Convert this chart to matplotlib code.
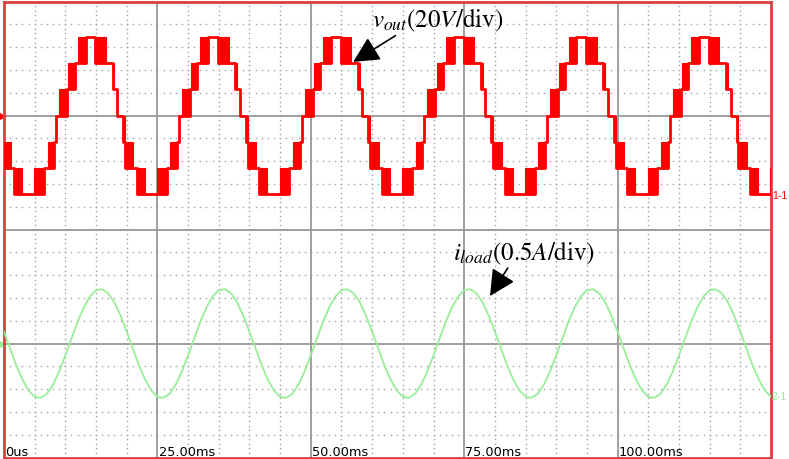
import numpy as np
import matplotlib.pyplot as plt

plt.rcParams['mathtext.fontset'] = 'stix'

# scope settings (screen is 25 x 20 minor divisions)
time_per_div = 5.0      # ms per minor division
volt_per_div = 20.0     # channel 1, V/div
amp_per_div = 0.5       # channel 2, A/div
ch1_zero = 5.0          # channel offsets in divisions
ch2_zero = -5.0
screen_ms = 125.0

# one 20 ms cycle of the 7-level output voltage:
# segment start/end (ms) and the two levels it switches between
cycle_ms = 20.0
step_volts = 23.0
seg_start = [18.4, 19.4, 19.7, 21.1, 21.6, 22.9, 24.9, 26.5, 27.1, 28.2, 28.5,
             29.0, 30.3, 30.5, 31.5, 32.0, 33.3, 34.9, 36.6, 37.7, 38.0]
seg_end = seg_start[1:] + [38.4]
seg_low = [0, -1, -2, -2, -3, -3, -3, -2, -2, -1, 0, 0, 1, 1, 2, 2, 3, 2, 2, 1, 1]
seg_high = [0, 0, -1, -2, -2, -3, -2, -2, -1, -1, 0, 1, 1, 2, 2, 3, 3, 3, 2, 2, 1]

# one cycle of the load current, sampled every 1 ms (A)
cur_ms = list(range(20))
cur_amps = [0.26, -0.11, -0.48, -0.79, -1.03, -1.17, -1.19, -1.10, -0.90, -0.61,
            -0.26, 0.11, 0.48, 0.79, 1.03, 1.17, 1.19, 1.10, 0.90, 0.61]

time_labels = ['0us', '25.00ms', '50.00ms', '75.00ms', '100.00ms']

red = '#ff0000'
green = '#99ee99'
grid_gray = '#a0a0a0'

fig = plt.figure(figsize=(7.89, 4.60), dpi=100)
ax = fig.add_axes([4 / 789, 1.5 / 460, 767 / 789, 456 / 460])
ax.set_xlim(0, screen_ms)
ax.set_ylim(-10, 10)
ax.set_xticks([])
ax.set_yticks([])
for side in ax.spines.values():
    side.set_color('#d94040')
    side.set_linewidth(2)

# major graticule
for t in [25, 50, 75, 100]:
    ax.axvline(t, color='#979797', lw=1.3, zorder=1)
for y in [-5, 0, 5]:
    ax.axhline(y, color='#979797', lw=1.3, zorder=1)

# dotted minor graticule
sub_t = np.arange(1, screen_ms, 1.0)
for y in range(-9, 10):
    if y % 5 == 0:
        continue
    ax.plot(sub_t, np.full(len(sub_t), y), ls='none', marker='s', ms=1.0,
            mew=0, color=grid_gray, zorder=1)
sub_y = np.arange(-9.8, 10, 0.2)
for k in range(1, 25):
    if k % 5 == 0:
        continue
    ax.plot(np.full(len(sub_y), k * time_per_div), sub_y, ls='none', marker='s',
            ms=1.0, mew=0, color=grid_gray, zorder=1)

# channel 2: load current
n_cycles = int(screen_ms // cycle_ms) + 2
ct = []
ci = []
for k in range(n_cycles):
    ct += [t + k * cycle_ms for t in cur_ms]
    ci += cur_amps
ct = np.array(ct)
ci = ch2_zero + np.array(ci) / amp_per_div
ax.plot(ct, ci, color=green, lw=1.3, zorder=3)

# channel 1: staircase output voltage
vt = []
vy = []
for k in range(-1, n_cycles):
    shift = k * cycle_ms
    for s, e, lo, hi in zip(seg_start, seg_end, seg_low, seg_high):
        ylo = ch1_zero + lo * step_volts / volt_per_div
        yhi = ch1_zero + hi * step_volts / volt_per_div
        vt += [s + shift, e + shift]
        vy += [ylo, ylo]
        if hi != lo:
            ax.bar(s + shift, yhi - ylo, width=e - s, bottom=ylo, align='edge',
                   color=red, ec=red, lw=0.8, zorder=4)
ax.plot(vt, vy, color=red, lw=2.0, zorder=4)

# time stamps along the bottom
for k, lab in enumerate(time_labels):
    ax.text(k * 25 + 0.2, -9.9, lab, fontsize=9.3, ha='left', va='baseline',
            color='black', zorder=6)

# channel markers
ax.plot([-0.35], [ch1_zero], marker='>', ms=4, color=red, clip_on=False)
ax.plot([-0.35], [ch2_zero], marker='>', ms=4, color=green, clip_on=False)
ax.text(125.15, 1.5, '1-1', color=red, fontsize=7.6, family='Liberation Sans',
        va='center', ha='left', clip_on=False)
ax.text(125.15, -7.3, '2-1', color=green, fontsize=7.6, family='Liberation Sans',
        va='center', ha='left', clip_on=False)

# annotations
ax.text(59.9, 8.9, r'$v_{out}(20V/\mathrm{div})$', fontsize=18, va='baseline',
        ha='left', zorder=7)
ax.annotate('', xy=(56.9, 7.35), xytext=(63.8, 8.5),
            arrowprops=dict(arrowstyle='-|>,head_length=0.8,head_width=0.4',
                            mutation_scale=20, color='black', lw=1.2,
                            shrinkA=0, shrinkB=0), zorder=7)
ax.text(73.2, -1.3, r'$i_{load}(0.5A/\mathrm{div})$', fontsize=18,
        va='baseline', ha='left', zorder=7)
ax.annotate('', xy=(79.2, -2.92), xytext=(82.1, -1.69),
            arrowprops=dict(arrowstyle='-|>,head_length=0.8,head_width=0.4',
                            mutation_scale=20, color='black', lw=1.2,
                            shrinkA=0, shrinkB=0), zorder=7)

fig.savefig('out.png', dpi=100)
